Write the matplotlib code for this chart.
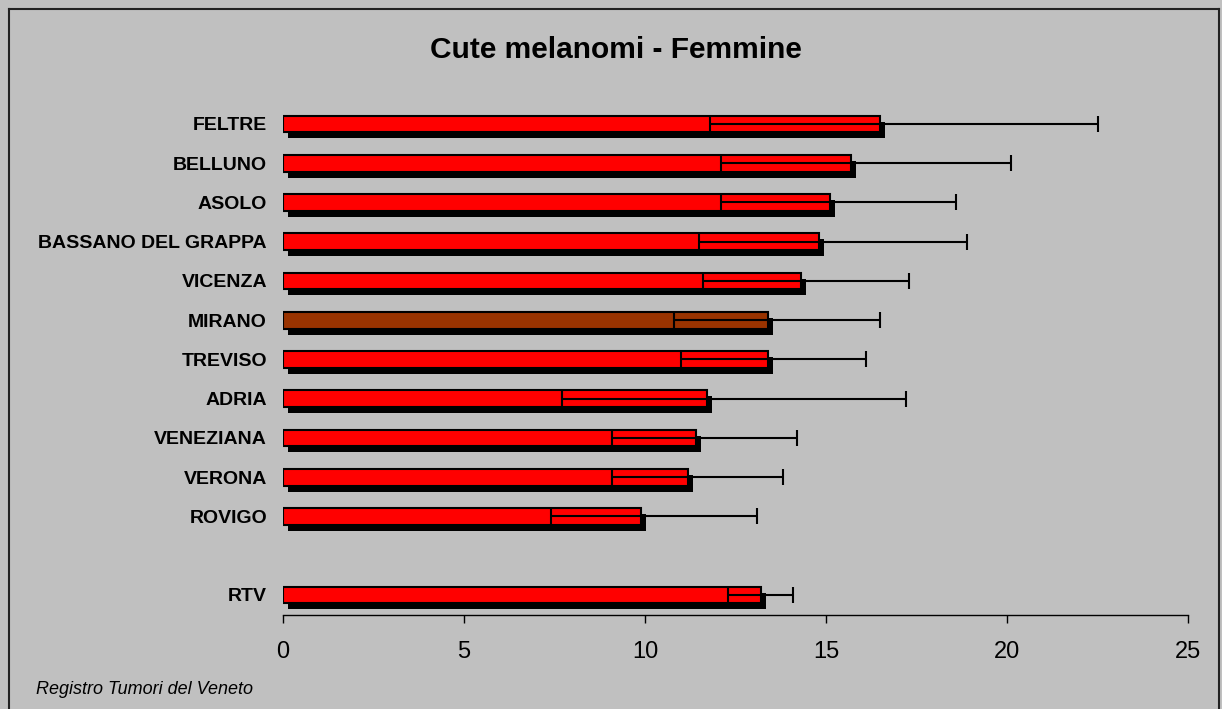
import matplotlib
matplotlib.use("Agg")
import matplotlib.pyplot as plt
import matplotlib.patheffects as pe
from matplotlib.lines import Line2D

categories = ["FELTRE", "BELLUNO", "ASOLO", "BASSANO DEL GRAPPA", "VICENZA", "MIRANO",
              "TREVISO", "ADRIA", "VENEZIANA", "VERONA", "ROVIGO", "RTV"]
values = [16.5, 15.7, 15.1, 14.8, 14.3, 13.4, 13.4, 11.7, 11.4, 11.2, 9.9, 13.2]
ci_low = [11.8, 12.1, 12.1, 11.5, 11.6, 10.8, 11.0, 7.7, 9.1, 9.1, 7.4, 12.3]
ci_high = [22.5, 20.1, 18.6, 18.9, 17.3, 16.5, 16.1, 17.2, 14.2, 13.8, 13.1, 14.1]
positions = [12, 11, 10, 9, 8, 7, 6, 5, 4, 3, 2, 0]
bar_colors = ["#FF0000"] * 5 + ["#993300"] + ["#FF0000"] * 6
xticks = [0, 5, 10, 15, 20, 25]

plt.rcParams["font.family"] = ["Liberation Sans", "DejaVu Sans"]
BG = "#C0C0C0"

fig = plt.figure(figsize=(12.22, 7.09), dpi=100, facecolor=BG)
ax = fig.add_axes([0.2316, 0.1326, 0.7406, 0.7313], facecolor=BG)

shadow = [pe.SimplePatchShadow(offset=(3.6, -4.3), shadow_rgbFace="black", alpha=1.0), pe.Normal()]
bars = ax.barh(positions, values, height=0.43, color=bar_colors, edgecolor="black",
               linewidth=1.5, zorder=2)
for b in bars:
    b.set_path_effects(shadow)

xerr = [[v - lo for v, lo in zip(values, ci_low)], [hi - v for v, hi in zip(values, ci_high)]]
ax.errorbar(values, positions, xerr=xerr, fmt="none", ecolor="black", elinewidth=1.5,
            capsize=5.8, capthick=1.5, zorder=3)

ax.set_xlim(0, 25)
ax.set_ylim(-0.51, 12.7)
ax.set_xticks(xticks)
ax.set_xticklabels([str(t) for t in xticks], fontsize=17)
ax.set_yticks(positions)
ax.set_yticklabels(categories, fontsize=14, fontweight="bold")
ax.tick_params(axis="y", length=0, pad=11.5)
ax.tick_params(axis="x", direction="out", length=5.8, width=1, pad=13)
for s in ["left", "right", "top"]:
    ax.spines[s].set_visible(False)
ax.spines["bottom"].set_linewidth(1)

fig.text(616 / 1222, 1 - 50 / 709, "Cute melanomi - Femmine", ha="center", va="center",
         fontsize=21.5, fontweight="bold")
fig.text(36 / 1222, 1 - 690 / 709, "Registro Tumori del Veneto", ha="left", va="center",
         fontsize=13, fontstyle="italic")

# outer border
x0, y0, x1 = 9 / 1222, 1 - 9 / 709, 1219 / 1222
for xs, ys in [([x0, x0], [0, y0]), ([x0, x1], [y0, y0]), ([x1, x1], [0, y0])]:
    fig.add_artist(Line2D(xs, ys, transform=fig.transFigure, color="#222222", linewidth=1.5))

fig.savefig("out.png", dpi=100, facecolor=BG)
